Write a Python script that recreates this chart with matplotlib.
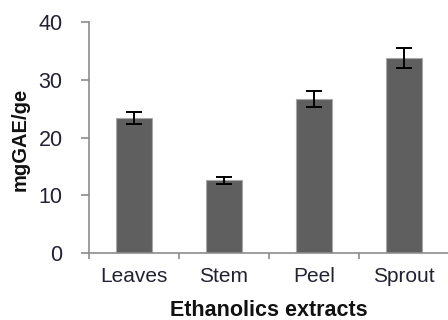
import matplotlib
matplotlib.use("Agg")
import matplotlib.pyplot as plt
import numpy as np

categories = ["Leaves", "Stem", "Peel", "Sprout"]
values = [23.4, 12.6, 26.6, 33.8]
errors = [1.0, 0.6, 1.4, 1.7]
y_ticks = [0, 10, 20, 30, 40]

plt.rcParams['font.family'] = ['Liberation Sans', 'DejaVu Sans']

fig = plt.figure(figsize=(4.48, 3.2), dpi=100)
ax = fig.add_axes([89/448, 1-253/320, 360/448, 231/320])

x = np.arange(len(categories))
ax.bar(x, values, width=0.4, color='#5f5f5f', edgecolor='#a8a8a8', linewidth=0.8, zorder=2)
ax.errorbar(x, values, yerr=errors, fmt='none', ecolor='black', elinewidth=1.4,
            capsize=5.5, capthick=1.4, zorder=3)

ax.set_xlim(-0.5, len(categories) - 0.5)
ax.set_ylim(0, 40)
ax.set_yticks(y_ticks)
ax.set_yticklabels([str(t) for t in y_ticks])
ax.set_xticks(x)
ax.set_xticklabels(categories)
ax.set_xticks(np.arange(len(categories) + 1) - 0.5, minor=True)

for s in ['top', 'right']:
    ax.spines[s].set_visible(False)
for s in ['left', 'bottom']:
    ax.spines[s].set_color('#8c8c8c')
    ax.spines[s].set_linewidth(1.2)

ax.tick_params(axis='y', which='major', direction='out', length=6, width=1.2,
               color='#8c8c8c', pad=13, labelsize=15.5, labelcolor='#222233')
ax.tick_params(axis='x', which='major', length=0, pad=10, labelsize=15, labelcolor='#222233')
ax.tick_params(axis='x', which='minor', direction='out', length=4, width=1.2, color='#8c8c8c')

ax.set_xlabel("Ethanolics extracts", fontsize=15.5, fontweight='bold', color='#111111',
              va='center')
ax.xaxis.set_label_coords(0.5, (253-310)/231)
ax.set_ylabel("mgGAE/ge", fontsize=14.5, fontweight='bold', color='#111111', va='center')
ax.yaxis.set_label_coords((20-89)/360, 0.49)

fig.savefig("out.png", dpi=100)
